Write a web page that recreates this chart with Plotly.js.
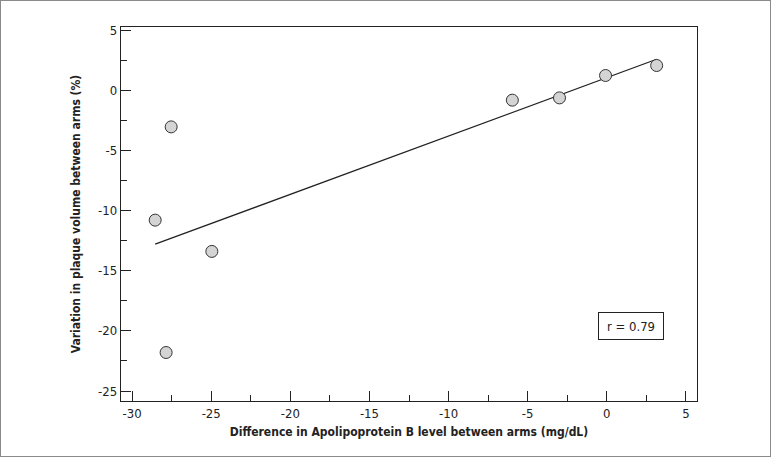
<!DOCTYPE html>
<html>
<head>
<meta charset="utf-8">
<script src="https://cdn.plot.ly/plotly-3.0.1.min.js"></script>
<style>
  html, body { margin: 0; padding: 0; background: #fff; }
  #chart { width: 771px; height: 457px; box-sizing: border-box; border: 1px solid #8a8a8a; }
</style>
</head>
<body>
<div id="chart"></div>
<script>
// difference in apo B (mg/dL) vs variation in plaque volume (%)
const apoDiff = [-28.54, -27.53, -27.85, -24.96, -5.97, -2.99, -0.08, 3.15];
const plaqueVar = [-10.8, -3.05, -21.8, -13.4, -0.83, -0.64, 1.22, 2.05];

// regression line ends
const fitX = [-28.54, 3.15];
const fitY = [-12.8, 2.57];

const xTicks = [-30, -25, -20, -15, -10, -5, 0, 5];
const yTicks = [-25, -20, -15, -10, -5, 0, 5];
const rText = "r = 0.79";

const font = "'Liberation Sans Narrow', 'DejaVu Sans Condensed', Arial, sans-serif";

const data = [
  {
    x: fitX,
    y: fitY,
    mode: "lines",
    type: "scatter",
    line: { color: "#222", width: 1.3 },
    hoverinfo: "skip"
  },
  {
    x: apoDiff,
    y: plaqueVar,
    mode: "markers",
    type: "scatter",
    marker: { size: 12, color: "#d4d4d4", line: { color: "#333", width: 1 } }
  }
];

const layout = {
  width: 769,
  height: 455,
  showlegend: false,
  paper_bgcolor: "#fff",
  plot_bgcolor: "#fff",
  margin: { l: 120, r: 73, t: 26, b: 55 },
  font: { family: font, size: 13, color: "#222" },
  xaxis: {
    range: [-30.7, 5.7],
    tickvals: xTicks,
    ticktext: xTicks.map(String),
    ticks: "inside",
    ticklen: 10,
    tickwidth: 1,
    tickcolor: "#222",
    minor: { dtick: 2.5, ticks: "inside", ticklen: 6, tickcolor: "#222" },
    showgrid: false,
    zeroline: false,
    showline: true,
    linecolor: "#222",
    linewidth: 1.3,
    mirror: true,
    title: { text: "<b>Difference in Apolipoprotein B level between arms (mg/dL)</b>", font: { size: 12 }, standoff: 7 }
  },
  yaxis: {
    range: [-25.83, 5.25],
    tickvals: yTicks,
    ticktext: yTicks.map(String),
    ticks: "inside",
    ticklen: 10,
    tickwidth: 1,
    tickcolor: "#222",
    minor: { dtick: 2.5, ticks: "inside", ticklen: 6, tickcolor: "#222" },
    showgrid: false,
    zeroline: false,
    showline: true,
    linecolor: "#222",
    linewidth: 1.3,
    mirror: true,
    title: { text: "<b>Variation in plaque volume between arms (%)</b>", font: { size: 12 }, standoff: 14 }
  },
  annotations: [
    {
      x: 0.885, y: 0.2, xref: "paper", yref: "paper",
      xanchor: "center", yanchor: "middle",
      text: rText,
      showarrow: false,
      font: { size: 13 },
      bordercolor: "#222",
      borderwidth: 1,
      borderpad: 4,
      width: 56,
      height: 18
    }
  ]
};

Plotly.newPlot("chart", data, layout, { displayModeBar: false, staticPlot: true });
</script>
</body>
</html>
